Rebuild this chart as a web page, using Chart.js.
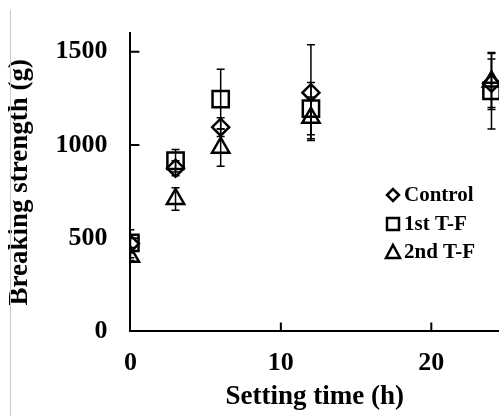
<!DOCTYPE html>
<html>
<head>
<meta charset="utf-8">
<script src="https://cdn.jsdelivr.net/npm/chart.js@4/dist/chart.umd.min.js"></script>
<style>
  body { margin: 0; background: #fff; }
  canvas { display: block; }
</style>
</head>
<body>
<canvas id="breaking" width="499" height="416"></canvas>
<script>
const ctx_bs = 'breaking';

// setting time (h)
var times = [0, 3, 6, 12, 24];

var control = [470, 875, 1095, 1280, 1330];
var controlErr = [75, 40, 50, 257, 130];

var first = [475, 915, 1245, 1195, 1290];
var firstErr = [25, 60, 160, 140, 205];

var second = [400, 710, 985, 1145, 1340];
var secondErr = [20, 60, 100, 112, 150];

var seriesNames = ["Control", "1st T-F", "2nd T-F"];
var xTicks = [0, 10, 20];
var yTicks = [0, 500, 1000, 1500];

function pts(vals) {
    return times.map(function (t, i) { return { x: t, y: vals[i] }; });
}

const serif = '"Liberation Serif", "Times New Roman", serif';

// error bars, clipped to plot area
const errorBars = {
    id: 'errorBars',
    beforeDatasetsDraw: function (chart) {
        const c = chart.ctx, a = chart.chartArea;
        const xs = chart.scales.x, ys = chart.scales.y;
        const errs = [controlErr, firstErr, secondErr];
        const vals = [control, first, second];
        c.save();
        c.beginPath();
        c.rect(a.left, a.top, a.right - a.left, a.bottom - a.top);
        c.clip();
        c.strokeStyle = '#000';
        c.lineWidth = 1.5;
        for (let d = 0; d < 3; d++) {
            for (let i = 0; i < times.length; i++) {
                const x = xs.getPixelForValue(times[i]);
                const y1 = ys.getPixelForValue(vals[d][i] + errs[d][i]);
                const y2 = ys.getPixelForValue(vals[d][i] - errs[d][i]);
                c.beginPath();
                c.moveTo(x, y1); c.lineTo(x, y2);
                c.moveTo(x - 4, y1); c.lineTo(x + 4, y1);
                c.moveTo(x - 4, y2); c.lineTo(x + 4, y2);
                c.stroke();
            }
        }
        c.restore();
    }
};

// inner tick marks, legend box, left frame line
const extras = {
    id: 'extras',
    afterDraw: function (chart) {
        const c = chart.ctx, a = chart.chartArea;
        const xs = chart.scales.x, ys = chart.scales.y;
        c.save();
        c.strokeStyle = '#000';
        c.lineWidth = 2;
        c.beginPath();
        yTicks.slice(1).forEach(function (v) {
            const y = ys.getPixelForValue(v);
            c.moveTo(a.left, y); c.lineTo(a.left + 9, y);
        });
        xTicks.slice(1).forEach(function (v) {
            const x = xs.getPixelForValue(v);
            c.moveTo(x, a.bottom); c.lineTo(x, a.bottom - 9);
        });
        c.stroke();

        // faint frame line at the left
        c.strokeStyle = '#c8c8c8';
        c.lineWidth = 1;
        c.beginPath();
        c.moveTo(10.5, 10); c.lineTo(10.5, 416);
        c.stroke();

        // legend
        const lx = 393, rows = [195, 224, 252];
        c.strokeStyle = '#000';
        c.lineWidth = 2.5;
        c.beginPath();
        c.moveTo(lx - 6, rows[0]); c.lineTo(lx, rows[0] - 6);
        c.lineTo(lx + 6, rows[0]); c.lineTo(lx, rows[0] + 6);
        c.closePath();
        c.stroke();
        c.strokeRect(lx - 6, rows[1] - 6, 12, 12);
        c.beginPath();
        c.moveTo(lx, rows[2] - 7); c.lineTo(lx + 7, rows[2] + 6);
        c.lineTo(lx - 7, rows[2] + 6);
        c.closePath();
        c.stroke();

        c.fillStyle = '#000';
        c.font = 'bold 21px ' + serif;
        c.textBaseline = 'middle';
        c.textAlign = 'left';
        seriesNames.forEach(function (n, i) {
            c.fillText(n, 404, rows[i] + 1);
        });
        c.restore();
    }
};

const breakingChart = new Chart(ctx_bs, {
    type: 'scatter',
    data: {
        datasets: [{
            label: seriesNames[0],
            data: pts(control),
            pointStyle: 'rectRot',
            pointRadius: 8.5,
            borderWidth: 2.5
        }, {
            label: seriesNames[1],
            data: pts(first),
            pointStyle: 'rect',
            pointRadius: 11.5,
            borderWidth: 2.5
        }, {
            label: seriesNames[2],
            data: pts(second),
            pointStyle: 'triangle',
            pointRadius: 10,
            borderWidth: 2.5
        }].map(function (ds) {
            ds.borderColor = '#000';
            ds.backgroundColor = 'rgba(0,0,0,0)';
            ds.pointHoverRadius = ds.pointRadius;
            return ds;
        })
    },
    options: {
        responsive: false,
        animation: false,
        layout: { autoPadding: false, padding: { left: 4, top: 33, right: 0, bottom: 3 } },
        plugins: {
            legend: { display: false },
            tooltip: { enabled: false }
        },
        scales: {
            x: {
                type: 'linear',
                min: 0,
                max: 24.5,
                afterBuildTicks: function (s) {
                    s.ticks = xTicks.map(function (v) { return { value: v }; });
                },
                afterFit: function (s) {
                    s.paddingLeft = 0;
                    s.paddingRight = 0;
                },
                grid: { drawOnChartArea: false, drawTicks: true, tickLength: 14, tickColor: 'rgba(0,0,0,0)' },
                border: { display: true, color: '#000', width: 2 },
                ticks: {
                    padding: 2,
                    color: '#000',
                    maxRotation: 0,
                    callback: function (v) { return String(v); },
                    font: { family: serif, size: 26, weight: 'bold' }
                },
                title: {
                    display: true,
                    text: 'Setting time (h)',
                    color: '#000',
                    padding: { top: 0, bottom: 0 },
                    font: { family: serif, size: 27, weight: 'bold' }
                }
            },
            y: {
                min: 0,
                max: 1600,
                afterBuildTicks: function (s) {
                    s.ticks = yTicks.map(function (v) { return { value: v }; });
                },
                grid: { drawOnChartArea: false, drawTicks: true, tickLength: 21, tickColor: 'rgba(0,0,0,0)' },
                border: { display: true, color: '#000', width: 2 },
                ticks: {
                    padding: 2,
                    color: '#000',
                    callback: function (v) { return String(v); },
                    font: { family: serif, size: 26, weight: 'bold' }
                },
                title: {
                    display: true,
                    text: 'Breaking strength (g)',
                    color: '#000',
                    padding: { top: 0, bottom: 17 },
                    font: { family: serif, size: 27, weight: 'bold' }
                }
            }
        }
    },
    plugins: [errorBars, extras]
});
</script>
</body>
</html>
